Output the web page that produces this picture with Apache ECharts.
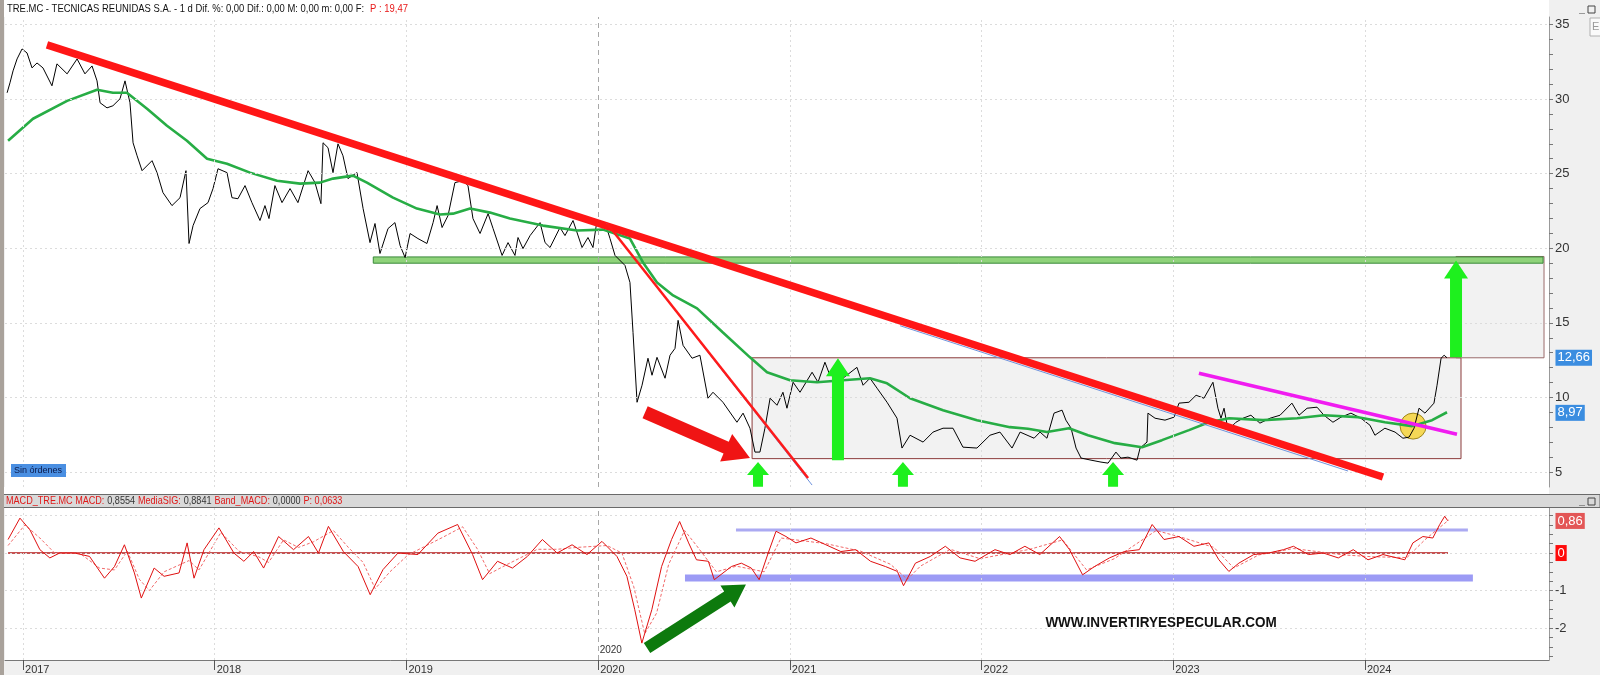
<!DOCTYPE html>
<html><head><meta charset="utf-8">
<script src="https://cdn.jsdelivr.net/npm/echarts@6/dist/echarts.min.js"></script>
<style>html,body{margin:0;padding:0;background:#fff}#c{width:1600px;height:675px}</style>
</head><body><div id="c"></div>
<script>
// ---------- DATA (decimal years, prices) ----------
const yearTicks = [2017, 2018, 2019, 2020, 2021, 2022, 2023, 2024];
const priceLabelTicks = [5, 10, 15, 20, 25, 30, 35];
const priceMinorTicks = [5,6,7,8,9,10,11,12,13,14,15,16,17,18,19,20,21,22,23,24,25,26,27,28,29,30,31,32,33,34,35];
const macdLabelTicks = [-2, -1];
const macdMinorTicks = [-2.75,-2.5,-2.25,-2,-1.75,-1.5,-1.25,-1,-0.75,-0.5,-0.25,0,0.25,0.5,0.75,1];
const macdGridValues = [1, 0, -1, -2];

const price = [[2016.917,30.42],[2016.932,31.09],[2016.948,31.89],[2016.969,32.69],[2016.995,33.36],[2017.021,33.09],[2017.047,32.09],[2017.073,32.42],[2017.104,32.09],[2017.151,30.89],[2017.177,32.36],[2017.230,31.69],[2017.282,32.69],[2017.323,31.69],[2017.360,32.22],[2017.386,31.22],[2017.402,29.75],[2017.438,29.41],[2017.469,29.55],[2017.506,30.02],[2017.532,31.22],[2017.558,29.75],[2017.574,27.07],[2017.595,26.20],[2017.621,25.20],[2017.673,25.87],[2017.699,25.07],[2017.730,23.73],[2017.777,22.86],[2017.819,23.39],[2017.850,25.20],[2017.866,20.32],[2017.887,21.52],[2017.923,22.66],[2017.965,23.06],[2017.991,24.00],[2018.017,25.33],[2018.064,25.07],[2018.090,23.39],[2018.121,23.32],[2018.158,24.20],[2018.194,23.06],[2018.236,21.86],[2018.262,22.86],[2018.283,21.99],[2018.314,24.20],[2018.351,23.06],[2018.393,24.00],[2018.434,23.06],[2018.487,25.20],[2018.523,24.40],[2018.554,22.99],[2018.565,27.07],[2018.591,26.74],[2018.617,25.07],[2018.643,27.00],[2018.669,26.20],[2018.695,24.67],[2018.742,25.07],[2018.774,22.66],[2018.810,20.38],[2018.836,21.66],[2018.862,19.65],[2018.904,21.32],[2018.940,21.72],[2018.967,20.18],[2018.993,19.38],[2019.019,20.99],[2019.060,20.65],[2019.107,20.32],[2019.139,21.72],[2019.160,22.86],[2019.186,21.39],[2019.217,22.19],[2019.253,24.40],[2019.295,24.53],[2019.321,24.20],[2019.347,21.99],[2019.384,20.99],[2019.426,22.32],[2019.452,21.32],[2019.499,19.52],[2019.530,20.38],[2019.566,19.52],[2019.582,20.72],[2019.608,19.98],[2019.645,20.85],[2019.697,21.72],[2019.723,20.38],[2019.749,20.05],[2019.801,21.39],[2019.827,20.85],[2019.869,21.86],[2019.916,20.05],[2019.947,20.72],[2019.973,20.05],[2019.994,21.86],[2020.036,21.72],[2020.062,20.65],[2020.088,19.52],[2020.140,18.85],[2020.166,17.71],[2020.182,14.36],[2020.203,9.68],[2020.229,10.82],[2020.260,12.63],[2020.281,11.49],[2020.307,12.69],[2020.349,11.29],[2020.375,12.83],[2020.401,13.29],[2020.417,15.17],[2020.443,13.49],[2020.490,12.63],[2020.531,12.83],[2020.573,9.95],[2020.599,10.35],[2020.651,9.68],[2020.724,8.34],[2020.756,8.95],[2020.792,7.94],[2020.818,6.34],[2020.844,6.34],[2020.870,7.94],[2020.897,9.95],[2020.933,9.48],[2020.964,10.35],[2020.985,9.28],[2021.017,11.02],[2021.053,10.35],[2021.116,11.69],[2021.147,11.02],[2021.183,12.36],[2021.209,11.49],[2021.277,11.29],[2021.350,12.02],[2021.382,10.82],[2021.418,11.29],[2021.455,10.62],[2021.507,9.68],[2021.559,8.61],[2021.585,6.61],[2021.627,7.47],[2021.695,7.01],[2021.747,7.68],[2021.799,7.94],[2021.851,7.94],[2021.903,6.67],[2021.976,6.61],[2022.044,7.47],[2022.096,7.68],[2022.159,6.61],[2022.201,7.68],[2022.274,7.27],[2022.305,7.68],[2022.341,7.27],[2022.378,8.95],[2022.420,9.15],[2022.440,8.48],[2022.467,7.94],[2022.493,6.61],[2022.519,5.94],[2022.571,5.80],[2022.623,5.67],[2022.660,5.60],[2022.701,6.34],[2022.727,5.94],[2022.764,6.00],[2022.811,5.80],[2022.827,6.61],[2022.863,7.01],[2022.868,8.95],[2022.905,8.61],[2022.957,8.48],[2023.004,8.68],[2023.030,9.62],[2023.082,9.68],[2023.119,10.15],[2023.160,9.95],[2023.207,11.02],[2023.233,9.28],[2023.249,8.61],[2023.265,9.28],[2023.286,7.81],[2023.327,8.34],[2023.364,8.61],[2023.405,8.81],[2023.452,8.28],[2023.505,8.61],[2023.557,8.81],[2023.619,9.62],[2023.656,8.81],[2023.698,9.28],[2023.750,9.35],[2023.786,8.81],[2023.833,8.34],[2023.875,8.68],[2023.927,8.95],[2023.979,8.61],[2024.026,8.14],[2024.052,7.47],[2024.104,7.94],[2024.157,7.68],[2024.198,7.27],[2024.230,7.34],[2024.256,7.94],[2024.282,9.28],[2024.313,8.95],[2024.360,9.62],[2024.376,10.82],[2024.397,12.63],[2024.413,12.83],[2024.428,12.66]];

const movingAvg = [[2016.922,27.2],[2017.052,28.68],[2017.230,29.88],[2017.386,30.62],[2017.469,30.42],[2017.542,30.42],[2017.647,29.35],[2017.751,28.21],[2017.855,27.21],[2017.960,26.0],[2018.064,25.67],[2018.184,25.07],[2018.325,24.53],[2018.445,24.33],[2018.549,24.4],[2018.617,24.67],[2018.721,24.87],[2018.794,24.4],[2018.930,23.39],[2019.055,22.66],[2019.175,22.26],[2019.243,22.32],[2019.332,22.66],[2019.436,22.39],[2019.540,21.99],[2019.712,21.52],[2019.890,21.19],[2020.025,21.25],[2020.166,20.65],[2020.234,19.05],[2020.307,17.71],[2020.391,16.84],[2020.516,15.97],[2020.651,14.36],[2020.792,12.69],[2020.881,11.69],[2021.001,11.15],[2021.142,11.02],[2021.277,11.15],[2021.418,11.29],[2021.507,10.95],[2021.627,9.95],[2021.799,9.15],[2021.976,8.48],[2022.148,8.01],[2022.242,7.9],[2022.341,7.68],[2022.456,7.94],[2022.555,7.47],[2022.696,6.94],[2022.837,6.67],[2022.941,7.14],[2023.082,7.81],[2023.186,8.34],[2023.291,8.61],[2023.468,8.48],[2023.646,8.61],[2023.786,8.81],[2023.964,8.68],[2024.104,8.34],[2024.245,8.08],[2024.350,8.48],[2024.428,9.01]];

const macd = [[2016.922,0.36],[2016.984,0.93],[2017.036,0.62],[2017.088,0.09],[2017.140,-0.13],[2017.191,0],[2017.269,0],[2017.347,-0.09],[2017.425,-0.67],[2017.477,-0.36],[2017.529,0.22],[2017.581,-0.53],[2017.617,-1.2],[2017.684,-0.4],[2017.736,-0.62],[2017.814,-0.53],[2017.856,0.27],[2017.892,-0.67],[2017.944,0.09],[2018.022,0.67],[2018.100,0],[2018.152,-0.22],[2018.203,0.04],[2018.255,-0.4],[2018.333,0.44],[2018.411,0.09],[2018.489,0.44],[2018.541,0],[2018.593,0.71],[2018.671,0.04],[2018.748,-0.36],[2018.811,-1.11],[2018.878,-0.44],[2018.956,0],[2019.060,-0.04],[2019.164,0.53],[2019.267,0.76],[2019.345,-0.04],[2019.397,-0.71],[2019.475,-0.22],[2019.553,-0.4],[2019.631,-0.09],[2019.709,0.36],[2019.786,0],[2019.864,0.22],[2019.942,-0.04],[2020.020,0.31],[2020.098,-0.09],[2020.150,-0.62],[2020.191,-1.51],[2020.228,-2.4],[2020.280,-1.51],[2020.331,-0.36],[2020.383,0.36],[2020.425,0.84],[2020.472,0.27],[2020.513,-0.18],[2020.575,-0.22],[2020.606,-0.71],[2020.695,-0.36],[2020.747,-0.27],[2020.799,-0.4],[2020.840,-0.71],[2020.887,0],[2020.928,0.58],[2020.980,0.44],[2021.032,0.27],[2021.110,0.4],[2021.188,0.22],[2021.266,0.04],[2021.343,0.09],[2021.421,-0.22],[2021.499,-0.36],[2021.561,-0.49],[2021.593,-0.87],[2021.655,-0.27],[2021.733,-0.09],[2021.811,0.18],[2021.888,-0.13],[2021.966,-0.22],[2022.070,0.09],[2022.148,-0.04],[2022.226,0.18],[2022.304,-0.04],[2022.407,0.44],[2022.459,0.09],[2022.527,-0.58],[2022.589,-0.36],[2022.667,-0.13],[2022.745,0.04],[2022.823,0.09],[2022.890,0.76],[2022.952,0.36],[2023.030,0.44],[2023.108,0.18],[2023.186,0.27],[2023.238,-0.18],[2023.290,-0.49],[2023.342,-0.27],[2023.420,-0.04],[2023.497,0],[2023.575,0.09],[2023.627,0.18],[2023.705,-0.04],[2023.783,0],[2023.861,-0.13],[2023.939,0.09],[2024.016,-0.18],[2024.094,-0.04],[2024.208,-0.18],[2024.250,0.27],[2024.302,0.44],[2024.354,0.4],[2024.390,0.76],[2024.416,0.98],[2024.432,0.86]];

const macdSignal = [[2016.922,0.2],[2017.010,0.75],[2017.088,0.4],[2017.165,0.0],[2017.295,0.0],[2017.399,-0.4],[2017.477,-0.45],[2017.544,0.05],[2017.607,-0.7],[2017.659,-1.0],[2017.736,-0.5],[2017.866,-0.2],[2017.918,-0.45],[2018.032,0.55],[2018.126,0.05],[2018.229,-0.1],[2018.281,-0.25],[2018.359,0.35],[2018.437,0.15],[2018.515,0.3],[2018.619,0.6],[2018.697,0.15],[2018.774,-0.25],[2018.837,-0.95],[2018.914,-0.5],[2019.008,-0.05],[2019.190,0.42],[2019.293,0.7],[2019.371,0.1],[2019.434,-0.55],[2019.527,-0.3],[2019.683,0.1],[2019.786,0.1],[2019.890,0.15],[2020.046,0.2],[2020.124,0.0],[2020.186,-0.9],[2020.243,-2.15],[2020.305,-1.6],[2020.368,-0.3],[2020.451,0.6],[2020.513,0.2],[2020.617,-0.5],[2020.721,-0.35],[2020.866,-0.5],[2020.954,0.4],[2021.032,0.35],[2021.188,0.25],[2021.369,0.05],[2021.525,-0.3],[2021.613,-0.7],[2021.681,-0.35],[2021.837,0.1],[2021.992,-0.15],[2022.252,0.1],[2022.423,0.35],[2022.548,-0.45],[2022.693,-0.15],[2022.911,0.6],[2023.056,0.4],[2023.212,0.15],[2023.316,-0.4],[2023.446,-0.05],[2023.627,0.12],[2023.887,-0.05],[2024.042,-0.1],[2024.219,-0.12],[2024.312,0.35],[2024.406,0.75],[2024.437,0.88]];

const macdBand = [[2016.922, 0], [2024.433, 0]];

// annotation values (years / prices / MACD)
const mainTrend = [[2017.125, 33.63], [2024.094, 4.67]];
const mainTrendShadow = [[2021.575, 14.81], [2023.912, 5.07]];
const steepTrend = [[2020.046, 21.66], [2021.095, 4.60]];
const steepTrendShadow = [[2020.046, 21.66], [2021.116, 4.13]];
const magentaTrend = [[2023.134, 11.62], [2024.480, 7.54]];
const rangeBox = [2020.803, 5.9, 2024.501, 12.66];
const targetBox = [2024.475, 12.66, 2024.934, 19.45];
const resistanceBand = [2018.827, 19.0, 2024.929, 19.42];
const bigUpArrows = [[2021.251, 5.80, 12.63], [2024.475, 12.69, 19.18]];
const smallUpArrows = [[2020.834, 4.02, 5.67], [2021.590, 4.02, 5.67], [2022.686, 4.02, 5.67]];
const downArrow = [[2020.245, 9.01, 2020.792, 5.94]];
const macdArrow = [[2020.255, -2.53, 2020.771, -0.84]];
const crossCircle = [[2024.251, 8.08]];
const macdUpperLine = [[2020.719, 0.613], [2024.537, 0.613]];
const macdLowerBand = [[2020.453, -0.667], [2024.563, -0.667]];
const lastPrice = 12.66, lastAvg = 8.97, lastMacd = 0.8554, macdZero = 0;

// ---------- CHART ----------
const X_MIN = 2016.906, X_MAX = 2024.96;
const FONT = '"Liberation Sans", Arial, sans-serif';

function arrowSeries(data, xi, yi, shaftW, headW, headL, color, z) {
  return {
    type: 'custom', xAxisIndex: xi, yAxisIndex: yi, z: z, silent: true, clip: false,
    data: data, encode: { x: [0, 2], y: [1, 3] },
    renderItem: function (params, api) {
      const a = api.coord([api.value(0), api.value(1)]);
      const b = api.coord([api.value(2), api.value(3)]);
      const dx = b[0] - a[0], dy = b[1] - a[1], len = Math.hypot(dx, dy);
      const ux = dx / len, uy = dy / len, nx = -uy, ny = ux;
      const hl = Math.min(headL, len * 0.8);
      const k = [b[0] - ux * hl, b[1] - uy * hl];
      const s = shaftW / 2, h = headW / 2;
      const pts = [[a[0] + nx * s, a[1] + ny * s], [k[0] + nx * s, k[1] + ny * s], [k[0] + nx * h, k[1] + ny * h], b,
                   [k[0] - nx * h, k[1] - ny * h], [k[0] - nx * s, k[1] - ny * s], [a[0] - nx * s, a[1] - ny * s]];
      return { type: 'polygon', shape: { points: pts }, style: { fill: color } };
    }
  };
}
function seg(data, xi, yi, color, width, z, type) {
  return { type: 'line', xAxisIndex: xi, yAxisIndex: yi, data: data, showSymbol: false, symbol: 'none', silent: true,
           z: z, lineStyle: { color: color, width: width, type: type || 'solid' }, animation: false };
}
function tagPoint(value, text, bg) {
  return { coord: [X_MAX - 0.0001, value], label: { formatter: text, backgroundColor: bg } };
}
const tagLabel = { show: true, position: 'right', distance: 6, color: '#fff', fontSize: 13, fontFamily: FONT, padding: [2, 2, 1, 2] };
const vertical = (arr) => arr.map(v => ({ xAxis: v, lineStyle: v === 2020 ? { color: '#a8a8a8', type: [5, 4], width: 1 } : undefined }));

const chart = echarts.init(document.getElementById('c'));
chart.setOption({
  animation: false,
  backgroundColor: '#f0f0f0',
  grid: [
    { left: 5, right: 51, top: 17, height: 470, show: true, backgroundColor: '#ffffff', borderWidth: 0 },
    { left: 5, right: 51, top: 508, height: 152, show: true, backgroundColor: '#ffffff', borderWidth: 0 }
  ],
  xAxis: [
    { type: 'value', gridIndex: 0, min: X_MIN, max: X_MAX, show: false },
    { type: 'value', gridIndex: 1, min: X_MIN, max: X_MAX, splitLine: { show: false }, position: 'bottom',
      axisLine: { show: true, onZero: false, lineStyle: { color: '#777', width: 1 } },
      axisTick: { show: true, customValues: yearTicks, length: 10, lineStyle: { color: '#555' } },
      axisLabel: { customValues: yearTicks, formatter: v => String(Math.round(v)), align: 'left', margin: 4,
                   padding: [0, 0, 0, 2], fontSize: 11, color: '#333', fontFamily: FONT } }
  ],
  yAxis: [
    { type: 'value', gridIndex: 0, position: 'right', min: 4, max: 35.5, splitLine: { show: false },
      axisLine: { show: true, onZero: false, lineStyle: { color: '#999', width: 1 } },
      axisTick: { show: true, customValues: priceMinorTicks, length: 4, lineStyle: { color: '#777' } },
      axisLabel: { customValues: priceLabelTicks, margin: 6, fontSize: 13, color: '#333', fontFamily: FONT } },
    { type: 'value', gridIndex: 1, position: 'right', min: -2.85, max: 1.2, splitLine: { show: false },
      axisLine: { show: true, onZero: false, lineStyle: { color: '#999', width: 1 } },
      axisTick: { show: true, customValues: macdMinorTicks, length: 4, lineStyle: { color: '#777' } },
      axisLabel: { customValues: macdLabelTicks, margin: 6, fontSize: 13, color: '#333', fontFamily: FONT } }
  ],
  series: [
    // grid lines main
    { type: 'line', xAxisIndex: 0, yAxisIndex: 0, data: [], z: 1, silent: true,
      markLine: { silent: true, symbol: 'none', animation: false, label: { show: false },
        lineStyle: { color: '#dcdcdc', type: [2, 3], width: 1 },
        data: priceLabelTicks.map(v => ({ yAxis: v })).concat(vertical(yearTicks)) } },
    // grid lines macd
    { type: 'line', xAxisIndex: 1, yAxisIndex: 1, data: [], z: 1, silent: true,
      markLine: { silent: true, symbol: 'none', animation: false, label: { show: false },
        lineStyle: { color: '#dcdcdc', type: [2, 3], width: 1 },
        data: macdGridValues.map(v => ({ yAxis: v })).concat(vertical(yearTicks)) },
      markPoint: { silent: true, symbol: 'rect', symbolSize: 1, itemStyle: { color: 'rgba(0,0,0,0)' },
        label: { show: true, position: 'right', distance: 1, formatter: '2020', fontSize: 10, color: '#333', fontFamily: FONT },
        data: [{ coord: [2020, -2.58] }] } },
    // boxes + resistance band
    { type: 'line', xAxisIndex: 0, yAxisIndex: 0, data: [], z: 2, silent: true,
      markArea: { silent: true, animation: false, data: [
        [{ coord: [rangeBox[0], rangeBox[1]], itemStyle: { color: 'rgba(190,190,190,0.2)', borderColor: '#8b3a3a', borderWidth: 1 } }, { coord: [rangeBox[2], rangeBox[3]] }],
        [{ coord: [targetBox[0], targetBox[1]], itemStyle: { color: 'rgba(190,190,190,0.2)', borderColor: '#9a6a6a', borderWidth: 1 } }, { coord: [targetBox[2], targetBox[3]] }]
      ] } },
    { type: 'line', xAxisIndex: 0, yAxisIndex: 0, data: [], z: 3, silent: true,
      markArea: { silent: true, animation: false, data: [
        [{ coord: [resistanceBand[0], resistanceBand[1]], itemStyle: { color: '#8fd37a', borderColor: '#3a8a3a', borderWidth: 1 } }, { coord: [resistanceBand[2], resistanceBand[3]] }]
      ] } },
    // yellow circle
    { type: 'scatter', xAxisIndex: 0, yAxisIndex: 0, data: crossCircle, symbolSize: 26, z: 3, silent: true,
      itemStyle: { color: 'rgba(245,205,25,0.9)', borderColor: '#8a7000', borderWidth: 1 } },
    // price & MA
    seg(price, 0, 0, '#000000', 1, 4),
    seg(movingAvg, 0, 0, '#27ad45', 2.6, 4),
    // trendlines
    seg(mainTrendShadow, 0, 0, '#6f93dc', 1, 5),
    seg(mainTrend, 0, 0, '#ff1616', 7.5, 5),
    seg(steepTrendShadow, 0, 0, '#6f93dc', 1, 5),
    seg(steepTrend, 0, 0, '#ff1a1a', 2.5, 5),
    seg(magentaTrend, 0, 0, '#f01cf0', 3.5, 5),
    // arrows
    arrowSeries(bigUpArrows.map(a => [a[0], a[1], a[0], a[2]]), 0, 0, 12, 24, 18, '#1ef01e', 6),
    arrowSeries(smallUpArrows.map(a => [a[0], a[1], a[0], a[2]]), 0, 0, 10, 22, 13, '#1ef01e', 6),
    arrowSeries(downArrow, 0, 0, 13, 30, 26, '#f01414', 6),
    // price tags
    { type: 'line', xAxisIndex: 0, yAxisIndex: 0, data: [], z: 7, silent: true,
      markPoint: { silent: true, symbol: 'rect', symbolSize: 1, itemStyle: { color: 'rgba(0,0,0,0)' }, label: tagLabel,
        data: [tagPoint(lastPrice, '12,66', '#3b8de0'), tagPoint(lastAvg, '8,97', '#3b8de0')] } },
    // MACD panel
    seg(macdUpperLine, 1, 1, '#abaaf2', 3, 3),
    seg(macdLowerBand, 1, 1, '#9c9bf5', 7, 3),
    seg(macdBand, 1, 1, '#b31a1a', 1.5, 4),
    seg(macdSignal, 1, 1, '#f26a6a', 1, 4, [3, 2]),
    seg(macd, 1, 1, '#e01010', 1, 5),
    arrowSeries(macdArrow, 1, 1, 12, 26, 22, '#0d7a0d', 6),
    { type: 'line', xAxisIndex: 1, yAxisIndex: 1, data: [], z: 7, silent: true,
      markPoint: { silent: true, symbol: 'rect', symbolSize: 1, itemStyle: { color: 'rgba(0,0,0,0)' }, label: tagLabel,
        data: [tagPoint(lastMacd, '0,86', '#e35656'), tagPoint(macdZero, '0', '#ff0a0a')] } }
  ],
  graphic: [
    { type: 'rect', z: 10, silent: true, shape: { x: 0, y: 0, width: 1549, height: 17 }, style: { fill: '#ffffff' } },
    { type: 'rect', z: 10, silent: true, shape: { x: 0, y: 487, width: 1549, height: 7 }, style: { fill: '#ffffff' } },
    { type: 'rect', z: 10, silent: true, shape: { x: 0, y: 494.5, width: 1600, height: 13 }, style: { fill: '#d9d9d9', stroke: '#6a6a6a', lineWidth: 1 } },
    { type: 'rect', z: 10, silent: true, shape: { x: 0, y: 0, width: 4, height: 675 }, style: { fill: '#a9a29b' } },
    { type: 'text', z: 11, silent: true, x: 7, y: 9, scaleX: 0.9,
      style: { text: '{k|TRE.MC - TECNICAS REUNIDAS S.A. - 1 d Dif. %: 0,00 Dif.: 0,00 M: 0,00 m: 0,00 F:}  {r|P : 19,47}',
        verticalAlign: 'middle', rich: { k: { fill: '#111', fontSize: 10.5, fontFamily: FONT }, r: { fill: '#e81818', fontSize: 10.5, fontFamily: FONT } } } },
    { type: 'text', z: 11, silent: true, x: 6, y: 501.5, scaleX: 0.865,
      style: { text: '{r|MACD_TRE.MC MACD:} {k|0,8554} {r|MediaSIG:} {k|0,8841} {r|Band_MACD:} {k|0,0000} {r|P: 0,0633}',
        verticalAlign: 'middle', rich: { k: { fill: '#333', fontSize: 10.5, fontFamily: FONT }, r: { fill: '#e01818', fontSize: 10.5, fontFamily: FONT } } } },
    { type: 'rect', z: 11, silent: true, shape: { x: 11, y: 464, width: 55, height: 13 }, style: { fill: '#4a8fe2' } },
    { type: 'text', z: 12, silent: true, x: 14, y: 470.5, style: { text: 'Sin órdenes', verticalAlign: 'middle', fill: '#0c1a4a', fontSize: 9, fontFamily: FONT } },
    { type: 'text', z: 12, silent: true, x: 1161, y: 623, scaleX: 0.9,
      style: { text: 'WWW.INVERTIRYESPECULAR.COM', align: 'center', verticalAlign: 'middle', fill: '#111',
        font: 'bold 15px "Liberation Sans Narrow", "Liberation Sans", sans-serif' } },
    // window buttons
    { type: 'rect', z: 12, silent: true, shape: { x: 1579, y: 13, width: 6, height: 0.5 }, style: { fill: '#444' } },
    { type: 'rect', z: 12, silent: true, shape: { x: 1588, y: 6, width: 7, height: 7 }, style: { fill: 'none', stroke: '#444', lineWidth: 1 } },
    { type: 'rect', z: 12, silent: true, shape: { x: 1579, y: 505, width: 6, height: 0.5 }, style: { fill: '#444' } },
    { type: 'rect', z: 12, silent: true, shape: { x: 1588, y: 498, width: 7, height: 7 }, style: { fill: 'none', stroke: '#444', lineWidth: 1 } },
    { type: 'rect', z: 12, silent: true, shape: { x: 1590, y: 18, width: 12, height: 18 }, style: { fill: '#fafafa', stroke: '#b0b0b0', lineWidth: 1 } },
    { type: 'text', z: 12, silent: true, x: 1592, y: 27, style: { text: 'E', verticalAlign: 'middle', fill: '#999', fontSize: 11, fontFamily: FONT } }
  ]
});
</script>
</body></html>
